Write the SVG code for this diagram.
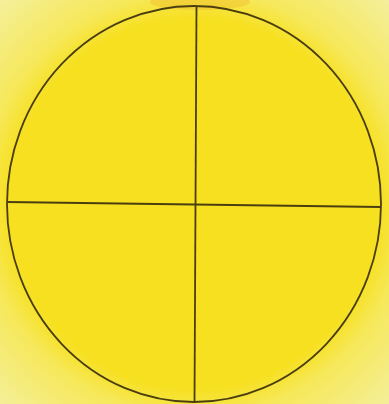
<svg xmlns="http://www.w3.org/2000/svg" width="389" height="404" viewBox="0 0 389 404">
<defs>
<radialGradient id="bg" cx="194" cy="204" r="280" gradientUnits="userSpaceOnUse">
<stop offset="0.66" stop-color="#f7e020"/>
<stop offset="0.76" stop-color="#f6e85a"/>
<stop offset="1" stop-color="#f4ef9a"/>
</radialGradient>
<style>
.edge{fill:none;stroke:#4a3e10;stroke-width:1.8}
</style>
</defs>
<rect width="389" height="404" fill="url(#bg)"/>
<ellipse cx="200" cy="2" rx="50" ry="8" fill="#f0c030" opacity="0.5"/>
<g id="circle">
<ellipse cx="194" cy="204" rx="187" ry="198" fill="#f7da08" class="edge"/>
</g>
<g id="connectors">
<line class="edge" x1="196.5" y1="6" x2="194.5" y2="402"/>
<line class="edge" x1="7" y1="202" x2="381" y2="207"/>
</g>
</svg>
